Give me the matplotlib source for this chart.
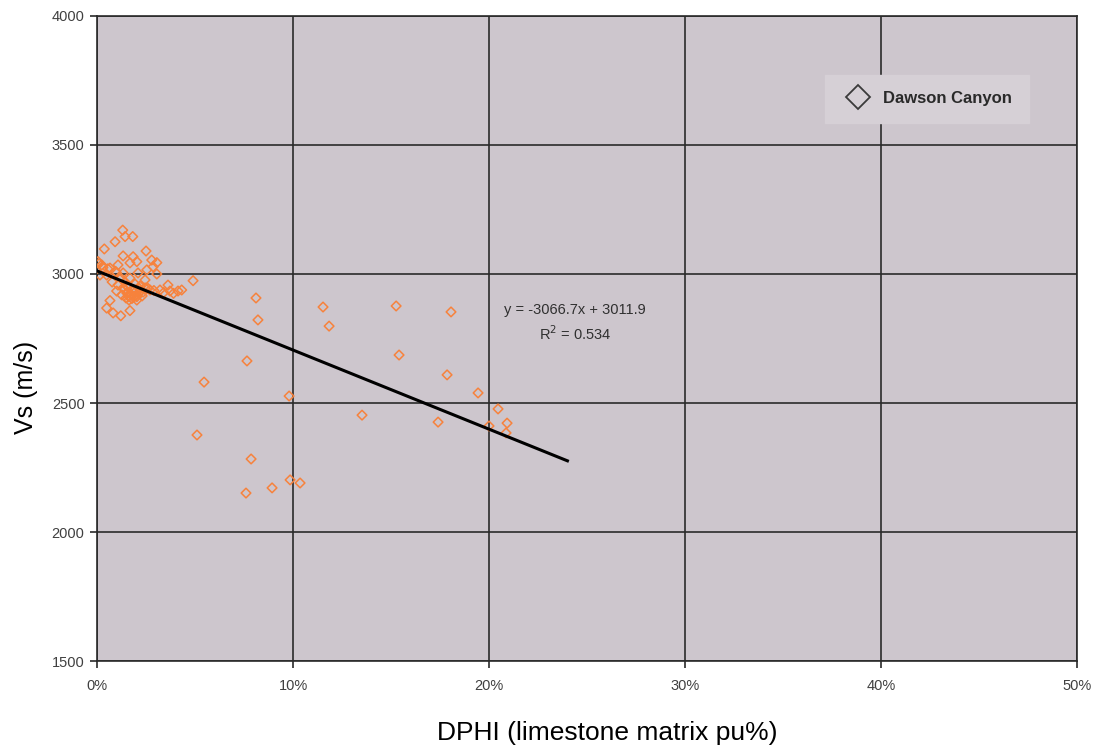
import matplotlib
matplotlib.use("Agg")
import matplotlib.pyplot as plt
from matplotlib.ticker import PercentFormatter, MultipleLocator
from matplotlib.lines import Line2D
import numpy as np

plt.rcParams['font.family'] = ['Liberation Sans', 'DejaVu Sans']

# DPHI (limestone matrix, %) and Vs (m/s)
dphi_pct = [
    1.31, 1.82, 1.43, 0.92, 0.37, 2.50, 1.33, 2.79, 3.05, 0.05, 0.24, 1.84,
    2.03, 1.68, 1.07, 0.66, 2.54, 2.86, 1.00, 1.33, 2.09, 3.05, 4.90, 0.15,
    0.49, 1.68, 2.45, 3.62, 3.21, 3.72, 4.13, 4.32, 1.00, 1.33, 1.26, 1.52,
    1.77, 2.03, 2.19, 2.70, 1.63, 0.66, 2.03, 0.49, 0.82, 1.21, 1.68, 2.45,
    1.43, 1.94, 1.58, 2.19, 1.79, 2.09, 1.48, 2.30, 1.07, 0.77,
    1.55, 1.70, 1.85, 2.00, 2.15, 1.62, 1.78, 1.92, 2.25, 1.40, 1.50, 1.88,
    2.35, 2.60, 2.90, 3.40, 3.90, 1.20, 0.95, 0.30, 0.10, 0.55,
    5.46, 5.10, 7.65, 8.11, 8.21, 7.86, 7.60, 8.93, 9.80, 9.85, 10.36,
    11.53, 11.84, 13.52, 15.26, 15.41, 18.06, 17.86, 17.40, 19.44, 20.46,
    20.00, 20.92, 20.87,
]
vs_ms = [
    3170, 3145, 3145, 3125, 3097, 3089, 3070, 3054, 3044, 3048, 3035, 3067,
    3048, 3043, 3035, 3023, 3016, 3028, 3004, 3004, 3004, 3000, 2974, 2996,
    2996, 2984, 2977, 2957, 2938, 2934, 2934, 2938, 2934, 2946, 2919, 2926,
    2919, 2912, 2931, 2938, 2899, 2897, 2899, 2868, 2849, 2838, 2858, 2946,
    2969, 2961, 2950, 2953, 2938, 2926, 2907, 2915, 2957, 2969,
    2930, 2922, 2940, 2918, 2944, 2912, 2905, 2928, 2935, 2940, 2955, 2910,
    2930, 2944, 2936, 2928, 2925, 2985, 3010, 3025, 3040, 3020,
    2581, 2376, 2663, 2907, 2822, 2283, 2151, 2171, 2527, 2202, 2190,
    2872, 2798, 2453, 2876, 2686, 2853, 2609, 2426, 2539, 2477,
    2411, 2422, 2384,
]

# Linear trend shown on the chart
slope = -3066.7
intercept = 3011.9
r2 = 0.534
trend_x_range = [0.0, 0.24]

series_name = "Dawson Canyon"
x_label = "DPHI (limestone matrix pu%)"
y_label = "Vs (m/s)"

fig = plt.figure(figsize=(10.99, 7.46), dpi=100)
ax = fig.add_axes([0.0883, 0.1139, 0.8917, 0.8647])
ax.set_facecolor('#cdc6cd')

x = np.array(dphi_pct) / 100.0
ax.scatter(x, vs_ms, marker='D', s=24, facecolors='none',
           edgecolors='#f7823c', linewidths=1.1, zorder=3)

tx = np.array(trend_x_range)
ax.plot(tx, slope * tx + intercept, color='black', lw=2.2, zorder=4)

ax.set_xlim(0, 0.5)
ax.set_ylim(1500, 4000)
ax.xaxis.set_major_locator(MultipleLocator(0.1))
ax.yaxis.set_major_locator(MultipleLocator(500))
ax.xaxis.set_major_formatter(PercentFormatter(1.0, decimals=0))
ax.grid(True, color='#2a2a2a', lw=1.2, zorder=1)
ax.set_axisbelow(True)
for sp in ax.spines.values():
    sp.set_color('#2a2a2a')
    sp.set_linewidth(1.2)
ax.tick_params(direction='out', length=5, width=1.2, color='#2a2a2a',
               labelsize=10.5, labelcolor='#404040', pad=4)
ax.tick_params(axis='x', pad=8)

fig.text(0.553, 0.008, x_label, fontsize=19, ha='center', va='baseline')
fig.text(0.024, 0.48, y_label, fontsize=18, fontweight='normal',
         rotation=90, ha='center', va='center')

ax.text(0.2440, 2860, f"y = {slope}x + {intercept}", fontsize=10.5,
        color='#303030', ha='center', va='center')
ax.text(0.2440, 2768, f"R$^2$ = {r2}", fontsize=10.5,
        color='#303030', ha='center', va='center')

handle = Line2D([], [], marker='D', linestyle='none', markersize=12,
                markerfacecolor='none', markeredgecolor='#3a3a3a',
                markeredgewidth=1.3)
leg = ax.legend([handle], [series_name], loc='upper left',
                bbox_to_anchor=(0.743, 0.909), frameon=True, fancybox=False,
                prop={'size': 12, 'weight': 'bold'}, borderpad=1.0,
                handletextpad=0.5, borderaxespad=0)
leg.get_frame().set_facecolor('#d6d0d6')
leg.get_frame().set_edgecolor('#d6d0d6')
leg.get_frame().set_alpha(1)
for t in leg.get_texts():
    t.set_color('#2a2a2a')

fig.savefig('out.png', dpi=100, facecolor='white')
